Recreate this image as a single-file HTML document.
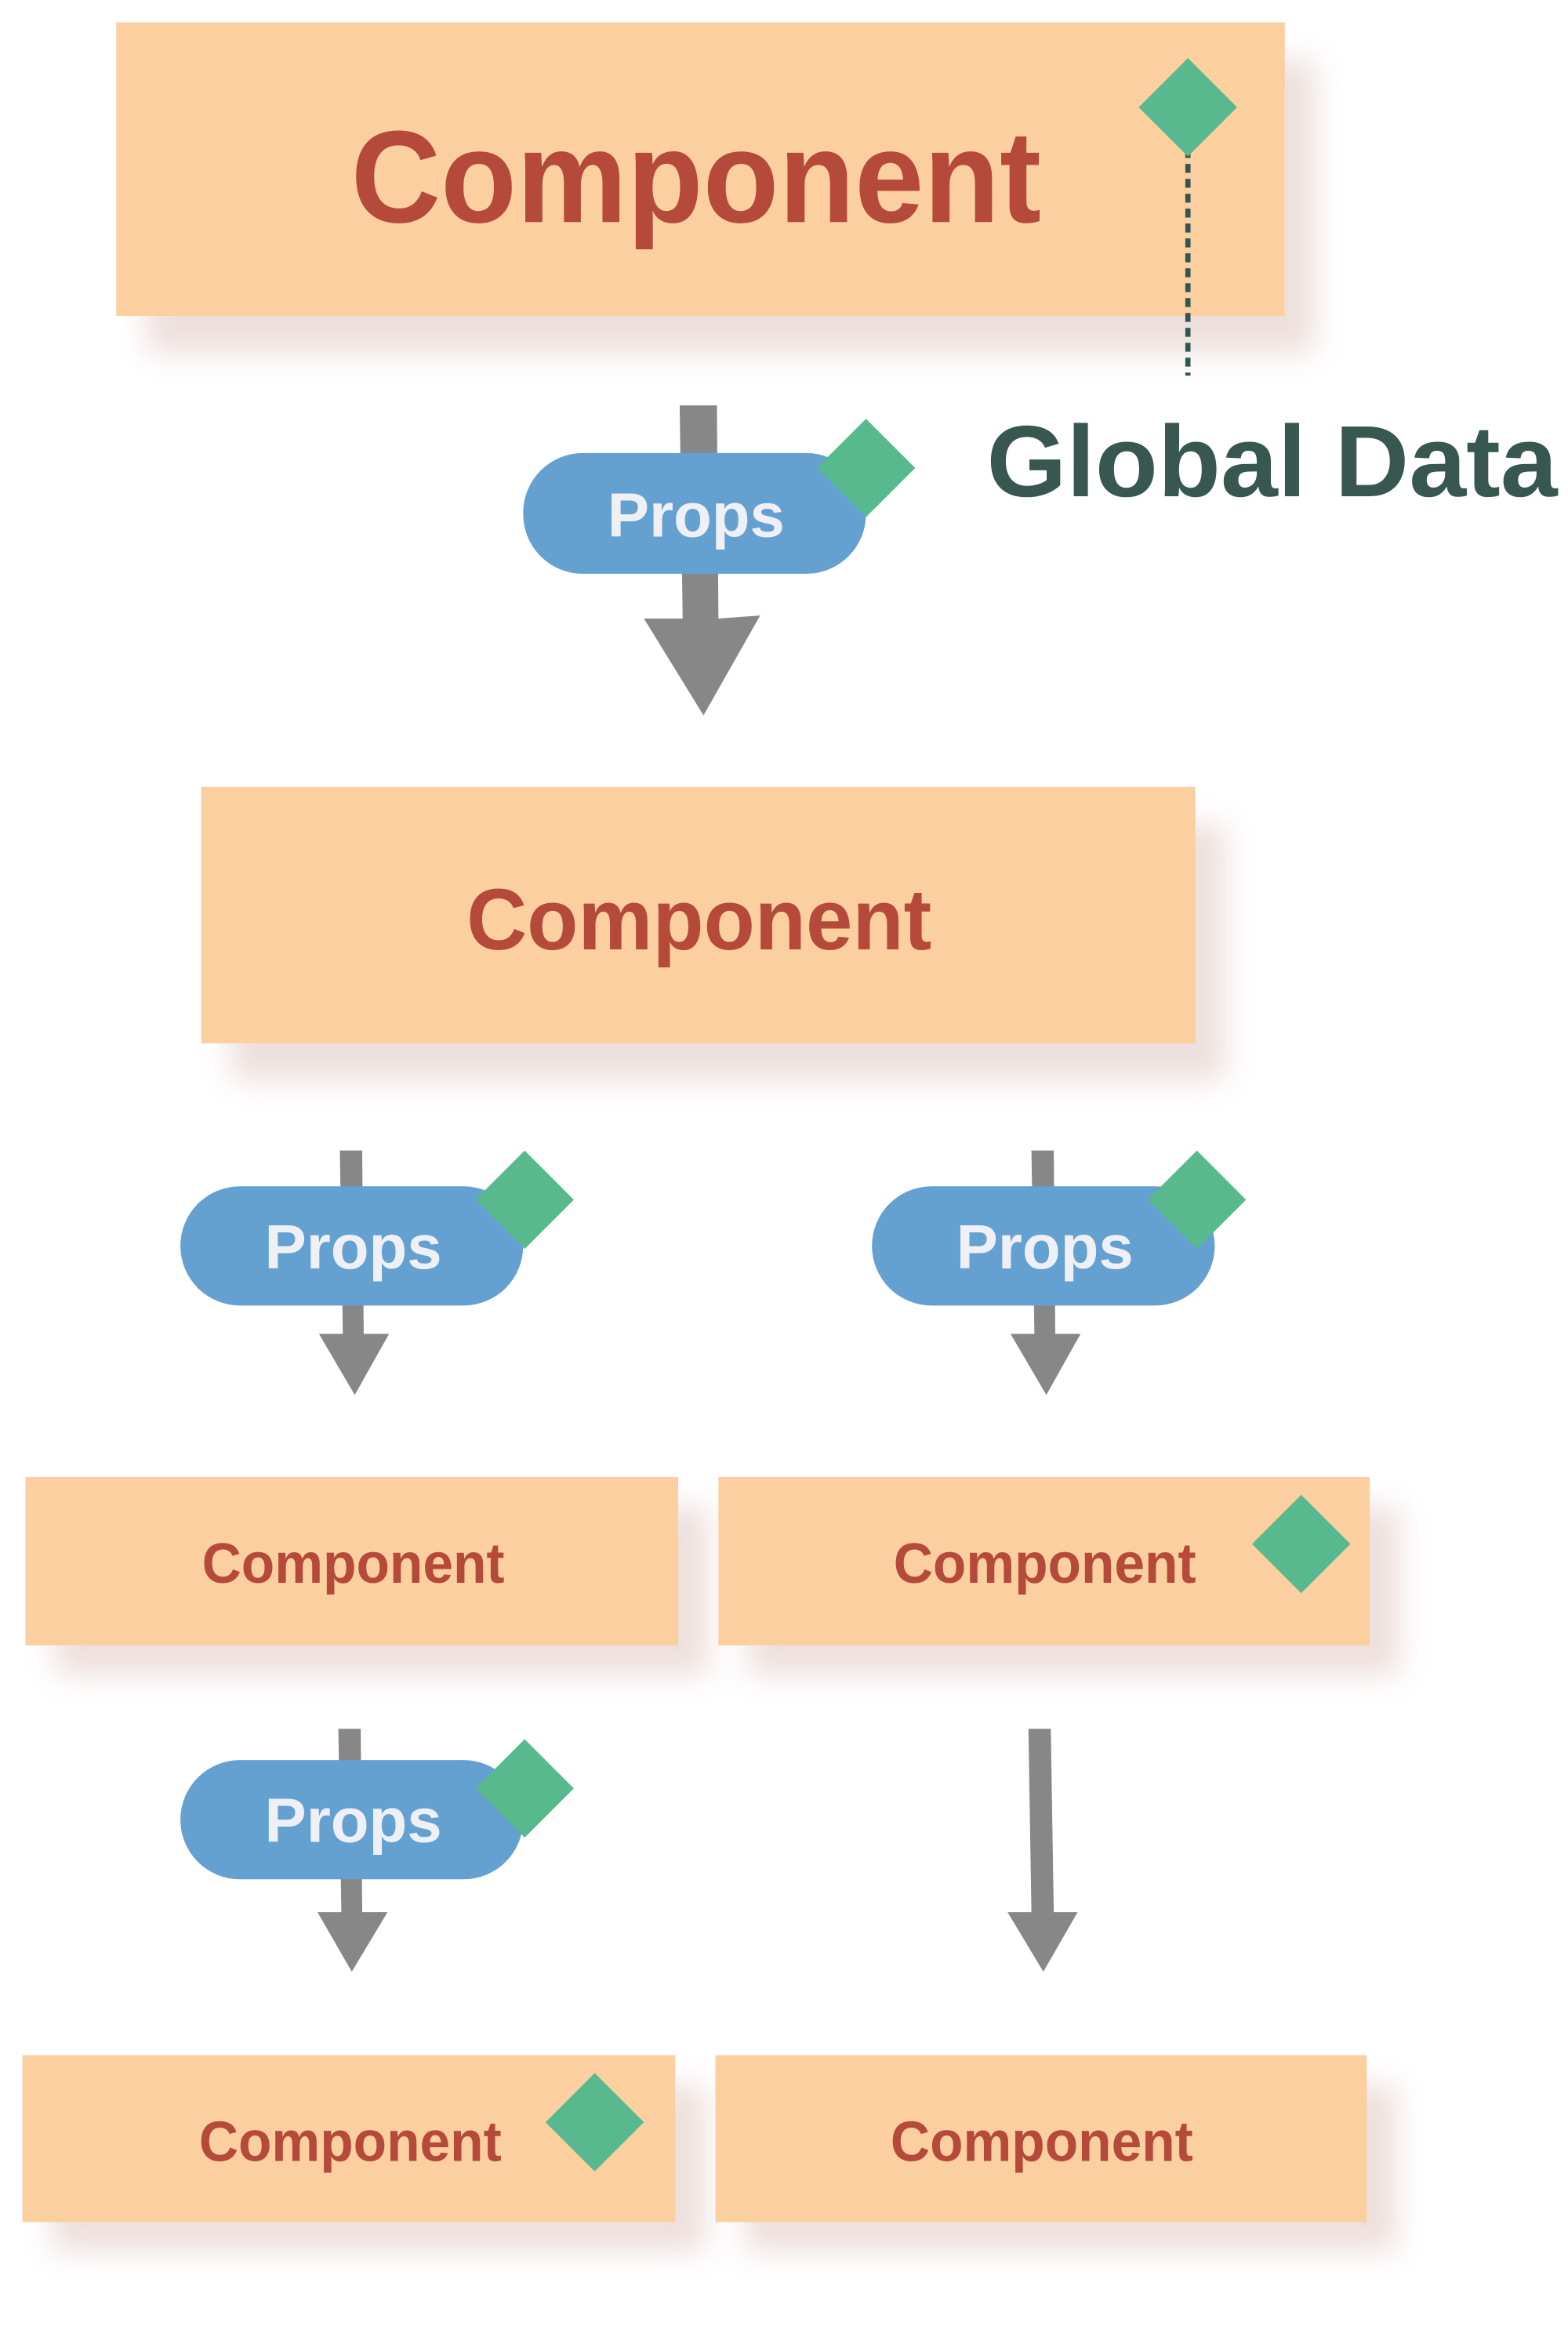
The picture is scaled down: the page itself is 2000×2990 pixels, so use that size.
<!DOCTYPE html>
<html><head><meta charset="utf-8"><style>
html,body{margin:0;padding:0;background:#fff;}
svg{display:block;}
text{font-family:"Liberation Sans",sans-serif;font-weight:bold;}
</style></head><body>
<svg width="2000" height="2990" viewBox="0 0 1052 1572.8" xmlns="http://www.w3.org/2000/svg">
<defs>
<filter id="sh" x="-20%" y="-30%" width="150%" height="180%">
<feGaussianBlur stdDeviation="10"/>
</filter>
</defs>
<g fill="#b07060" opacity="0.22" filter="url(#sh)">
<rect x="98" y="40" width="784" height="197"/>
<rect x="155" y="553" width="667" height="172"/>
<rect x="37" y="1011" width="438" height="113"/>
<rect x="502" y="1011" width="437" height="113"/>
<rect x="35" y="1399" width="438" height="112"/>
<rect x="500" y="1399" width="437" height="112"/>
</g>
<g fill="#fbcf9f">
<rect x="78" y="15" width="784" height="197"/>
<rect x="135" y="528" width="667" height="172"/>
<rect x="17" y="991" width="438" height="113"/>
<rect x="482" y="991" width="437" height="113"/>
<rect x="15" y="1379" width="438" height="112"/>
<rect x="480" y="1379" width="437" height="112"/>
</g>
<g fill="#b5493a" text-anchor="middle">
<text x="467" y="149" font-size="88" textLength="463" lengthAdjust="spacingAndGlyphs">Component</text>
<text x="469" y="637" font-size="58" textLength="312" lengthAdjust="spacingAndGlyphs">Component</text>
<text x="237" y="1062" font-size="38" textLength="203" lengthAdjust="spacingAndGlyphs">Component</text>
<text x="701" y="1062" font-size="38" textLength="203" lengthAdjust="spacingAndGlyphs">Component</text>
<text x="235" y="1450" font-size="38" textLength="203" lengthAdjust="spacingAndGlyphs">Component</text>
<text x="699" y="1450" font-size="38" textLength="203" lengthAdjust="spacingAndGlyphs">Component</text>
</g>
<line x1="797" y1="100" x2="797" y2="252" stroke="#2f5650" stroke-width="3.5" stroke-dasharray="6,4"/>
<text x="662" y="333" font-size="68" fill="#375750" textLength="383" lengthAdjust="spacingAndGlyphs">Global Data</text>
<g fill="#868786">
<polygon points="456,272 481,272 482,415 510,413 472,480 432,415 458,415"/>
<polygon points="228,772 243,772 244,895 261,895 238,936 214,895 230,895"/>
<polygon points="692,772 707,772 708,895 725,895 702,936 678,895 694,895"/>
<polygon points="227,1160 242,1160 243,1283 260,1283 236,1323 213,1283 229,1283"/>
<polygon points="690,1160 705,1160 707,1283 723,1283 700,1323 676,1283 692,1283"/>
</g>
<g fill="#64a0d0">
<rect x="351" y="304" width="230" height="81" rx="40"/>
<rect x="121" y="796" width="230" height="80" rx="40"/>
<rect x="585" y="796" width="230" height="80" rx="40"/>
<rect x="121" y="1181" width="230" height="80" rx="40"/>
</g>
<g fill="#eef0f5" text-anchor="middle" font-size="42">
<text x="467" y="360" font-weight="normal">Props</text>
<text x="237" y="851">Props</text>
<text x="701" y="851">Props</text>
<text x="237" y="1236">Props</text>
</g>
<g fill="#58b98f">
<polygon points="797,39 830,72 797,105 764,72"/>
<polygon points="581,281 614,314 581,347 548,314"/>
<polygon points="352,772 385,805 352,838 319,805"/>
<polygon points="803,772 836,805 803,838 770,805"/>
<polygon points="873,1003 906,1036 873,1069 840,1036"/>
<polygon points="352,1167 385,1200 352,1233 319,1200"/>
<polygon points="399,1391 432,1424 399,1457 366,1424"/>
</g>
</svg>
</body></html>
